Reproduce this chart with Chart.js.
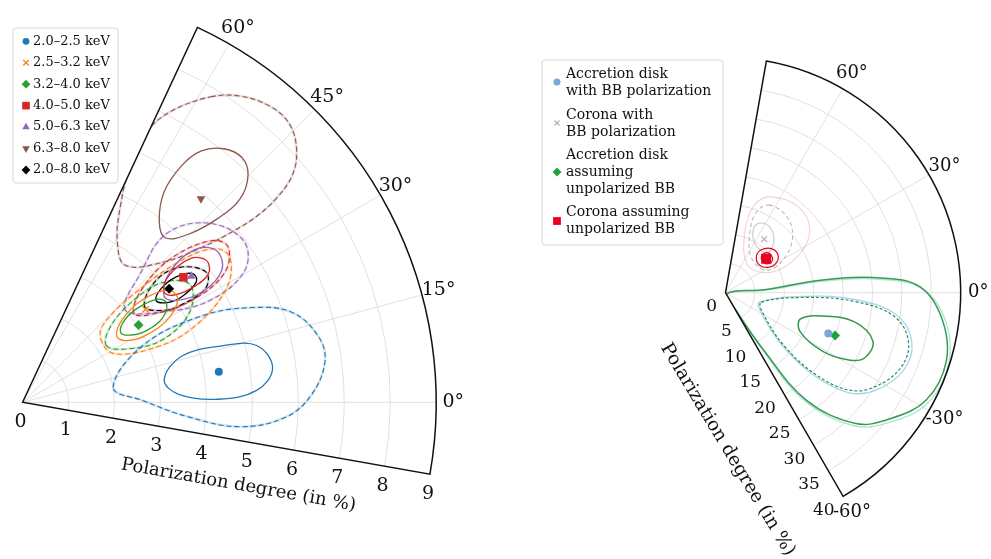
<!DOCTYPE html>
<html>
<head>
<meta charset="utf-8">
<script src="https://cdn.jsdelivr.net/npm/chart.js@4.4.1/dist/chart.umd.min.js"></script>
<style>
  html, body { margin: 0; padding: 0; background: #fff; width: 991px; height: 559px; overflow: hidden; }
  #left { position: absolute; left: 0; top: 0; }
  #right { position: absolute; left: 495px; top: 0; }
</style>
</head>
<body>
<canvas id="left" width="495" height="559"></canvas>
<canvas id="right" width="496" height="559"></canvas>
<script>
// all points are [polarization degree %, polarization angle deg]

// ---- left panel: energy bands ----
const leftBands  = ['2.0–2.5 keV', '2.5–3.2 keV', '3.2–4.0 keV', '4.0–5.0 keV', '5.0–6.3 keV', '6.3–8.0 keV', '2.0–8.0 keV'];
const leftColors = ['#1f77b4', '#ff7f0e', '#2ca02c', '#d62728', '#9467bd', '#8c564b', '#000000'];
const leftPD     = [4.32, 3.35, 3.03, 4.43, 4.58, 5.88, 4.03];
const leftAngle  = [8.8, 37.0, 33.6, 37.8, 36.7, 48.7, 37.7];
const leftRTicks = [0, 1, 2, 3, 4, 5, 6, 7, 8, 9];
const leftThetaTicks = [0, 15, 30, 45, 60];

const c2025In  = [[3.12, 9.0], [3.60, 16.1], [4.54, 15.7], [5.24, 13.6], [5.49, 7.8], [5.10, 2.9], [4.25, 0.9], [3.40, 2.9]];
const c2025Out = [[2.0, 9.2], [2.89, 25.2], [4.31, 25.7], [5.42, 22.3], [6.18, 18.4], [6.59, 12.6], [6.64, 7.7], [6.29, 1.5], [5.74, -3.2], [4.76, -6.4], [3.62, -5.0], [2.61, 0.9]];
const c2532In  = [[2.5, 35], [2.8, 39.5], [3.4, 40.5], [4.0, 37.5], [4.05, 33.5], [3.6, 29.5], [3.0, 28.5], [2.6, 31]];
const c2532Out = [[2.19, 39.1], [2.24, 28.3], [3.06, 22.5], [4.0, 23.4], [5.05, 28.9], [5.49, 34.6], [5.37, 38.4], [4.63, 41.7], [3.35, 44.2], [2.45, 43.9]];
const c3240In  = [[2.62, 35.5], [2.85, 38.8], [3.25, 39.2], [3.7, 37.2], [3.8, 34.5], [3.55, 31], [3.1, 30], [2.75, 32]];
const c3240Out = [[2.2, 34], [2.5, 40.5], [3.2, 42.5], [4.0, 40.5], [4.45, 35], [4.1, 28], [3.3, 24], [2.55, 27]];
const c4050In  = [[3.9, 38], [4.2, 40.8], [4.8, 40.5], [5.05, 37.5], [4.9, 34.5], [4.4, 34], [4.0, 35.5]];
const c4050Out = [[3.1, 38.5], [3.6, 43.5], [4.5, 44], [5.4, 40.5], [5.6, 37], [5.2, 32.5], [4.3, 31], [3.5, 33.5]];
const c5063In  = [[3.85, 37], [4.3, 41.5], [5.0, 41.5], [5.35, 38], [5.2, 33.5], [4.6, 31.5], [4.0, 33.5]];
const c5063Out = [[3.0, 42], [3.8, 47.5], [4.8, 49.5], [5.6, 44], [5.95, 36], [5.6, 30.5], [4.6, 28.5], [3.6, 33]];
const c6380In  = [[7.03, 51.5], [7.14, 48.0], [6.95, 45.1], [6.47, 43.0], [5.83, 43.2], [5.13, 45.3], [4.73, 49.0], [4.93, 52.9], [5.51, 56.0], [6.20, 56.0], [6.70, 54.5]];
const c6380Out = [[7.79, 58.3], [8.16, 54.5], [8.38, 50.1], [8.38, 46.2], [8.10, 42.6], [7.66, 40.0], [7.07, 38.7], [6.50, 38.4], [5.90, 39.0], [5.13, 40.8], [4.29, 45.0], [3.72, 53.1], [4.06, 59.5], [4.75, 63.4], [5.61, 65.4], [6.48, 65.2], [7.11, 62.8]];
const c2080In  = [[3.65, 37.2], [3.9, 39.3], [4.3, 39.2], [4.64, 37], [4.6, 34.7], [4.19, 33.5], [3.85, 34.3]];
const c2080Out = [[3.37, 38.1], [3.92, 42.3], [4.5, 40.6], [4.89, 35.3], [4.68, 31.8], [4.0, 31.5], [3.66, 33]];

// ---- right panel: disk / corona decomposition ----
const rightLabels = [['Accretion disk', 'with BB polarization'], ['Corona with', 'BB polarization'], ['Accretion disk', 'assuming', 'unpolarized BB'], ['Corona assuming', 'unpolarized BB']];
const rightColors = ['#7ea7d8', '#b4b4b4', '#1fa33c', '#e8001c'];
const rightPD     = [18.8, 11.2, 20.0, 9.0];
const rightAngle  = [-21.6, 54, -21.3, 39.8];
const rightRTicks = [0, 5, 10, 15, 20, 25, 30, 35, 40];
const rightThetaTicks = [-60, -30, 0, 30, 60];

const diskPolOut   = [[0.3, -30], [6.8, 3.5], [16.8, 6.7], [26.8, 4.8], [33.6, 1.0], [37.7, -7.2], [39.8, -17.3], [39.2, -28.4], [35.4, -38.5], [31.3, -46], [22.6, -53.8], [11.6, -57], [3.1, -59.7]];
const diskPolMid   = [[6.0, -15.5], [13.6, -2.6], [22.2, -3.1], [29.4, -7.5], [32.8, -14.9], [33.0, -23.5], [30.4, -33], [26.9, -39], [20.6, -43], [13.0, -42.8], [6.8, -28.5]];
const diskUnpolOut = [[0.3, -30], [6.6, 4.3], [16.7, 7.4], [26.6, 5.4], [33.1, 1.7], [37.1, -6.9], [39.3, -17.1], [38.7, -28], [35.0, -37.9], [31.2, -45.2], [22.8, -53], [11.9, -56.3], [3.3, -59.5]];
const diskUnpolMid = [[6.3, -15.1], [13.7, -3.4], [22.0, -3.9], [28.9, -7.9], [32.2, -14.9], [32.4, -23.2], [29.9, -32.4], [26.7, -38.2], [20.7, -42.1], [13.3, -42], [7.1, -27.8]];
const diskUnpolIn  = [[13.5, -19.3], [17.0, -13.5], [22.5, -12.7], [26.4, -18.2], [26.1, -25.1], [23.9, -28.5], [19.3, -31], [14.3, -27.5]];
const coronaPolOut = [[18.0, 64.4], [19.1, 49.6], [17.9, 36.8], [13.9, 26.9], [8.5, 24.1], [6.0, 50.6], [10.9, 72.4], [15.7, 71.6]];
const coronaPolMid = [[16.6, 63.4], [16.6, 51.1], [14.9, 40.0], [11.7, 30.5], [8.1, 28.1], [7.3, 52.4], [10.9, 67.7], [14.7, 68.9]];
const coronaPolIn  = [[12.9, 65.1], [13.5, 56.5], [12.0, 46.7], [9.8, 43.6], [9.5, 56.3], [11.1, 65.3]];
const coronaUnpolOut = [[8.2, 49.9], [9.5, 50], [10.8, 43.8], [11.0, 35.8], [9.9, 30], [8.4, 30.6], [7.4, 40.5]];
const coronaUnpolIn  = [[8.6, 45], [9.7, 44.3], [10.0, 37.6], [9.3, 33.4], [8.3, 36.9]];

const DEG = Math.PI / 180;
const FONT = "'DejaVu Serif', serif";

function pol(list) {
  return list.map(([r, t]) => ({ x: r * Math.cos(t * DEG), y: r * Math.sin(t * DEG) }));
}

function contour(list, color, width, dash) {
  return { type: 'line', data: pol(list), borderColor: color, borderWidth: width, borderDash: dash || [],
           pointRadius: 0, tension: 0.38, fill: false, loop: true };
}

function marker(pd, ang, style, color, radius, rotation) {
  return { type: 'scatter', data: pol([[pd, ang]]), pointStyle: style, pointRadius: radius, pointRotation: rotation || 0,
           backgroundColor: color, borderColor: color, borderWidth: style === 'crossRot' ? 1.3 : 0, showLine: false };
}

function geom(chart) {
  const xs = chart.scales.x, ys = chart.scales.y;
  const ox = xs.getPixelForValue(0), oy = ys.getPixelForValue(0);
  const ppu = xs.getPixelForValue(1) - ox;
  const pt = (r, t) => [xs.getPixelForValue(r * Math.cos(t * DEG)), ys.getPixelForValue(r * Math.sin(t * DEG))];
  return { ox, oy, ppu, pt };
}

function wedge(ctx, g, cfg) {
  ctx.beginPath();
  ctx.moveTo(g.ox, g.oy);
  ctx.arc(g.ox, g.oy, cfg.rMax * g.ppu, -cfg.thetaMax * DEG, -cfg.thetaMin * DEG);
  ctx.closePath();
}

function polarFrame(cfg) {
  return {
    id: 'polarFrame',
    beforeDatasetsDraw(chart) {
      const ctx = chart.ctx, g = geom(chart);
      ctx.save();
      ctx.strokeStyle = '#e0e0e0';
      ctx.lineWidth = 1;
      cfg.rings.forEach(r => {
        ctx.beginPath();
        ctx.arc(g.ox, g.oy, r * g.ppu, -cfg.thetaMax * DEG, -cfg.thetaMin * DEG);
        ctx.stroke();
      });
      cfg.spokes.forEach(t => {
        const p = g.pt(cfg.rMax, t);
        ctx.beginPath();
        ctx.moveTo(g.ox, g.oy);
        ctx.lineTo(p[0], p[1]);
        ctx.stroke();
      });
      ctx.restore();
      // closed contours: let the line element treat them as loops
      chart.data.datasets.forEach((ds, i) => {
        const line = chart.getDatasetMeta(i).dataset;
        if (ds.loop && line) {
          line._loop = true;
          line._fullLoop = true;
          line._pointsUpdated = false;
          line._segments = undefined;
          line._path = undefined;
        }
      });
      ctx.save();
      wedge(ctx, g, cfg);
      ctx.clip();
    },
    afterDatasetsDraw(chart) {
      const ctx = chart.ctx, g = geom(chart);
      ctx.restore();
      ctx.save();
      ctx.strokeStyle = '#111';
      ctx.lineWidth = 1.5;
      wedge(ctx, g, cfg);
      ctx.stroke();

      ctx.fillStyle = '#111';
      ctx.font = cfg.thetaFont + 'px ' + FONT;
      ctx.textAlign = 'center';
      ctx.textBaseline = 'middle';
      cfg.thetaTicks.forEach(t => {
        const p = g.pt(cfg.thetaLabelR, t);
        ctx.fillText(t + '°', p[0], p[1]);
      });

      ctx.font = cfg.rFont + 'px ' + FONT;
      ctx.textAlign = cfg.rAlign;
      cfg.rTicks.forEach(r => {
        const p = g.pt(r, cfg.rTickAngle);
        ctx.fillText(String(r), p[0] + cfg.rDx, p[1] + cfg.rDy);
      });

      ctx.save();
      ctx.font = cfg.titleFont + 'px ' + FONT;
      ctx.textAlign = 'center';
      ctx.translate(g.ox + cfg.titleDx, g.oy + cfg.titleDy);
      ctx.rotate(cfg.titleRot * DEG);
      ctx.fillText('Polarization degree (in %)', 0, 0);
      ctx.restore();

      // legend box
      const L = cfg.legend;
      ctx.fillStyle = 'rgba(255,255,255,0.9)';
      ctx.strokeStyle = '#d6d6d6';
      ctx.lineWidth = 1;
      ctx.beginPath();
      ctx.roundRect(L.x, L.y, L.w, L.h, 3);
      ctx.fill();
      ctx.stroke();
      ctx.font = L.font + 'px ' + FONT;
      ctx.textAlign = 'left';
      L.items.forEach(it => {
        ctx.fillStyle = it.color;
        ctx.strokeStyle = it.color;
        ctx.lineWidth = 1.3;
        Chart.helpers.drawPoint(ctx, { pointStyle: it.style, radius: it.radius, rotation: it.rotation || 0,
                                       borderWidth: it.style === 'crossRot' ? 1.3 : 0 }, L.mx, it.my);
        ctx.fillStyle = '#111';
        it.lines.forEach((s, k) => ctx.fillText(s, L.tx, it.ty + k * L.lh));
      });
      ctx.restore();
    }
  };
}

function baseOptions(ox, oy, ppu, w, h) {
  return {
    responsive: false,
    animation: false,
    maintainAspectRatio: false,
    layout: { padding: 0 },
    plugins: { legend: { display: false }, tooltip: { enabled: false } },
    scales: {
      x: { type: 'linear', display: false, min: -ox / ppu, max: (w - ox) / ppu },
      y: { type: 'linear', display: false, min: -(h - oy) / ppu, max: oy / ppu }
    }
  };
}

// ---------- left chart ----------
const leftStyles = [['circle', 4, 0], ['crossRot', 4.5, 0], ['rectRot', 5, 0], ['rect', 6, 0], ['triangle', 5, 0], ['triangle', 5, 180], ['rectRot', 5, 0]];
const leftIn  = [c2025In, c2532In, c3240In, c4050In, c5063In, c6380In, c2080In];
const leftOut = [c2025Out, c2532Out, c3240Out, c4050Out, c5063Out, c6380Out, c2080Out];

const leftSets = [];
leftBands.forEach((b, i) => leftSets.push(marker(leftPD[i], leftAngle[i], leftStyles[i][0], leftColors[i], leftStyles[i][1], leftStyles[i][2])));
leftBands.forEach((b, i) => leftSets.push(contour(leftIn[i], leftColors[i], 1.3)));
leftBands.forEach((b, i) => leftSets.push(contour(leftOut[i], leftColors[i], 1.1, [5, 3])));
leftBands.forEach((b, i) => leftSets.push(contour(leftOut[i], leftColors[i] + '30', 2.6)));

new Chart(document.getElementById('left'), {
  type: 'scatter',
  data: { datasets: leftSets },
  options: baseOptions(17, 405, 47.1, 495, 559),
  plugins: [polarFrame({
    thetaMin: -10, thetaMax: 65, rMax: 9,
    rings: [1, 2, 3, 4, 5, 6, 7, 8], spokes: leftThetaTicks,
    thetaTicks: leftThetaTicks, thetaLabelR: 9.37, thetaFont: 19,
    rTicks: leftRTicks, rTickAngle: -10, rDx: -2, rDy: 20, rAlign: 'center', rFont: 19,
    titleDx: 216, titleDy: 83, titleRot: 10, titleFont: 18,
    legend: {
      x: 13, y: 28, w: 105, h: 155, font: 13, mx: 26, tx: 33, lh: 0,
      items: leftBands.map((b, i) => ({ style: leftStyles[i][0], radius: leftStyles[i][1] - 0.6, rotation: leftStyles[i][2],
                                        color: leftColors[i], lines: [b], my: 41.3 + i * 21.45, ty: 41.3 + i * 21.45 }))
    }
  })]
});

// ---------- right chart ----------
const rightStyles = [['circle', 4, 0], ['crossRot', 4, 0], ['rectRot', 5, 0], ['rect', 7, 0]];
const rightSets = [];
rightLabels.forEach((l, i) => rightSets.push(marker(rightPD[i], rightAngle[i], rightStyles[i][0], rightColors[i], rightStyles[i][1])));
rightSets.push(contour(coronaUnpolIn, '#e8001c', 1.2));
rightSets.push(contour(coronaUnpolOut, '#e8001c', 1.2));
rightSets.push(contour(coronaPolIn, '#c8c8c8', 1.1));
rightSets.push(contour(coronaPolMid, '#b9b9b9', 1.1, [4, 3]));
rightSets.push(contour(coronaPolOut, 'rgba(230,150,160,0.45)', 1.1));
rightSets.push(contour(diskUnpolIn, '#2e9a4c', 1.5));
rightSets.push(contour(diskUnpolMid, '#2e8b57', 1.2, [3, 2]));
rightSets.push(contour(diskUnpolOut, '#3a9a55', 1.5));
rightSets.push(contour(diskPolMid, 'rgba(126,200,230,0.7)', 1.3));
rightSets.push(contour(diskPolOut, 'rgba(140,220,200,0.7)', 1.4));

new Chart(document.getElementById('right'), {
  type: 'scatter',
  data: { datasets: rightSets },
  options: baseOptions(230, 293, 6.05, 496, 559),
  plugins: [polarFrame({
    thetaMin: -60, thetaMax: 80, rMax: 40,
    rings: [5, 10, 15, 20, 25, 30, 35], spokes: rightThetaTicks,
    thetaTicks: rightThetaTicks, thetaLabelR: 43, thetaFont: 18,
    rTicks: rightRTicks, rTickAngle: -60, rDx: -8.5, rDy: 13.5, rAlign: 'right', rFont: 17,
    titleDx: 2, titleDy: 157, titleRot: 59, titleFont: 18.5,
    legend: {
      x: 47, y: 60, w: 181, h: 185, font: 14, mx: 62, tx: 71, lh: 17,
      items: rightLabels.map((l, i) => ({ style: rightStyles[i][0], radius: [3.5, 3.5, 4.5, 5.5][i], color: rightColors[i],
                                          lines: l, my: [82, 123, 172, 221][i], ty: [74, 115, 155, 212][i] }))
    }
  })]
});
</script>
</body>
</html>
